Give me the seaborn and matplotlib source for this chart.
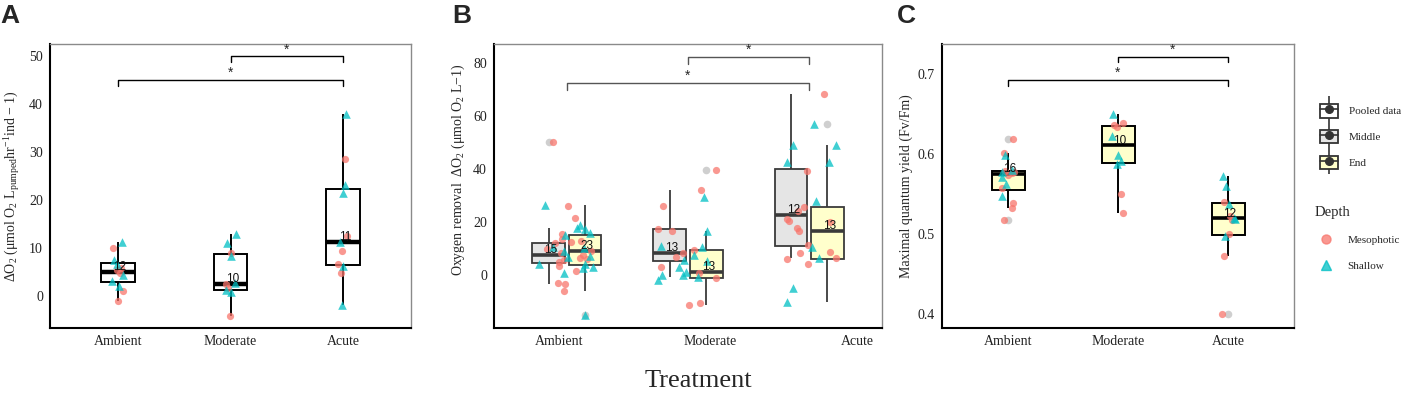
import numpy as np
import pandas as pd
import seaborn as sns
import matplotlib.pyplot as plt
from matplotlib.lines import Line2D
from matplotlib.patches import Patch

treatments = ["Ambient", "Moderate", "Acute"]
depths = ["Mesophotic", "Shallow"]
phases = ["Middle", "End"]

# panel A - O2 consumption per individual
a_shallow = {"Ambient": [11.2, 7.5, 6.8, 4.4, 3.2, 2.2],
             "Moderate": [13.0, 11.0, 8.3, 2.7, 1.3, 0.8],
             "Acute": [38.0, 23.1, 21.5, 11.3, 6.3, -1.8]}
a_meso = {"Ambient": [10.0, 5.8, 5.4, 4.9, 1.0, -1.0],
          "Moderate": [9.0, 2.5, 1.7, -4.0],
          "Acute": [28.5, 12.5, 9.4, 6.7, 4.9]}

# panel B - oxygen removal, middle and end of the experiment
b_mid_shallow = {"Ambient": [0.6, 2.5, 4.0, 6.9, 9.1, 10.1, 15.7, 17.6],
                 "Moderate": [-0.6, 0.0, 3.0, 5.3, 5.7, 7.5, 10.4, 16.7, 29.3],
                 "Acute": [10.7, 27.9, 42.5, 48.8]}
b_mid_meso = {"Ambient": [-3.4, 4.8, 6.0, 7.5, 12.0, 12.4, 50.0],
              "Moderate": [8.2, 17.2, 25.8, 32.1],
              "Acute": [6.5, 8.8, 11.2, 20.1, 21.0, 24.2, 39.2, 68.2]}
b_end_shallow = {"Ambient": [-15.1, 3.1, 4.1, 7.2, 10.5, 14.9, 17.2, 18.9, 26.4],
                 "Moderate": [-2.0, 0.0, 1.0, 11.0],
                 "Acute": [-10.1, -4.8, 6.3, 42.5, 48.8, 56.9]}
b_end_meso = {"Ambient": [-5.9, -3.2, 1.6, 3.5, 5.5, 6.5, 8.3, 9.0, 9.7, 12.8, 13.5, 15.3, 21.4, 26.0],
              "Moderate": [-11.3, -10.5, -1.3, 0.6, 3.1, 6.7, 9.4, 16.4, 39.5],
              "Acute": [4.0, 5.9, 8.2, 16.6, 17.6, 20.5, 25.4]}

# panel C - Fv/Fm
c_shallow = {"Ambient": [0.599, 0.580, 0.578, 0.571, 0.563, 0.547],
             "Moderate": [0.650, 0.6225, 0.599, 0.591, 0.588],
             "Acute": [0.5725, 0.560, 0.538, 0.520, 0.519, 0.497]}
c_meso = {"Ambient": [0.518, 0.533, 0.539, 0.558, 0.574, 0.576, 0.577, 0.579, 0.601, 0.619],
          "Moderate": [0.639, 0.636, 0.634, 0.550, 0.526],
          "Acute": [0.540, 0.523, 0.518, 0.500, 0.472, 0.400]}


def to_long(shallow, meso, phase="End"):
    rows = []
    for depth, d in (("Shallow", shallow), ("Mesophotic", meso)):
        for t, vals in d.items():
            for v in vals:
                rows.append((t, depth, phase, v))
    return pd.DataFrame(rows, columns=["Treatment", "Depth", "Phase", "value"])


dfA = to_long(a_shallow, a_meso)
dfB = pd.concat([to_long(b_mid_shallow, b_mid_meso, "Middle"),
                 to_long(b_end_shallow, b_end_meso, "End")], ignore_index=True)
dfC = to_long(c_shallow, c_meso)

sns.set_style("white")
plt.rcParams["font.family"] = ["Liberation Serif", "DejaVu Serif"]
plt.rcParams["mathtext.fontset"] = "stix"
plt.rcParams["mathtext.default"] = "regular"

pink = "#F8766D"
cyan = "#00BFC4"
dep_style = {"Mesophotic": (pink, "o", 5.2), "Shallow": (cyan, "^", 6.2)}
fill = {"Pooled data": "white", "Middle": "#E5E5E5", "End": "#FFFFCC"}
sans = ["Liberation Sans", "DejaVu Sans"]

np.random.seed(7)
W, H = 1420, 394
fig = plt.figure(figsize=(14.2, 3.94), dpi=100)


def mkax(x0, x1, y0=44, y1=328):
    return fig.add_axes([x0 / W, 1 - y1 / H, (x1 - x0) / W, (y1 - y0) / H])


axA = mkax(50, 411)
axB = mkax(494, 882)
axC = mkax(942, 1294)

flier = dict(marker="o", markerfacecolor="#CFCFCF", markeredgecolor="none", markersize=5.5)

# A
sns.boxplot(data=dfA, x="Treatment", y="value", order=treatments, width=0.3,
            color="white", saturation=1, linecolor="black", linewidth=1.4,
            showfliers=False, showcaps=False, medianprops=dict(linewidth=3.2), ax=axA)
# B
sns.boxplot(data=dfB, x="Treatment", y="value", order=treatments, hue="Phase",
            hue_order=phases, palette=fill, saturation=1, width=0.6, gap=0.1,
            linecolor="#3a3a3a", linewidth=1.3, showcaps=False, flierprops=flier,
            medianprops=dict(linewidth=2.6), legend=False, ax=axB)
# C
sns.boxplot(data=dfC, x="Treatment", y="value", order=treatments, width=0.3,
            color=fill["End"], saturation=1, linecolor="black", linewidth=1.4,
            showcaps=False, flierprops=flier, medianprops=dict(linewidth=2.6), ax=axC)

for ax, df, jit in ((axA, dfA, 0.05), (axB, dfB, 0.25), (axC, dfC, 0.06)):
    for dep in depths:
        col, mk, sz = dep_style[dep]
        sns.stripplot(data=df[df.Depth == dep], x="Treatment", y="value", order=treatments,
                      color=col, marker=mk, size=sz, jitter=jit, alpha=0.75,
                      linewidth=0, ax=ax)

# n labels at medians
for ax, df, offs in ((axA, dfA, {"End": 0.0}), (axB, dfB, {"Middle": -0.15, "End": 0.15}),
                     (axC, dfC, {"End": 0.0})):
    for i, t in enumerate(treatments):
        for ph, o in offs.items():
            v = df[(df.Treatment == t) & (df.Phase == ph)]["value"]
            ax.annotate(str(len(v)), (i + o, v.median()), xytext=(1.5, 3.5),
                        textcoords="offset points", ha="center", va="center",
                        fontsize=8.5, family=sans, color="#111")

# significance brackets
brk = {axA: (49.9, 1.1, 45.0, 1.25, "black"),
       axB: (82.1, 2.5, 72.3, 2.5, "#555555"),
       axC: (0.7216, 0.007, 0.6925, 0.0075, "black")}
for ax, (y1, d1, y2, d2, col) in brk.items():
    ax.plot([1, 1, 2, 2], [y1 - d1, y1, y1, y1 - d1], color=col, lw=1)
    ax.plot([0, 0, 2, 2], [y2 - d2, y2, y2, y2 - d2], color=col, lw=1)
    ax.text(1.5, y1, "*", ha="center", va="bottom", fontsize=10, family=sans)
    ax.text(1.0, y2, "*", ha="center", va="bottom", fontsize=10, family=sans)

axA.set_ylim(-6.6, 52.5)
axA.set_yticks([0, 10, 20, 30, 40, 50])
axB.set_ylim(-20, 87)
axB.set_yticks([0, 20, 40, 60, 80])
axC.set_ylim(0.3825, 0.7375)
axC.set_yticks([0.4, 0.5, 0.6, 0.7])

axA.set_ylabel("ΔO$_2$ (μmol O$_2$ L$_{pumped}$hr$^{-1}$ind − 1)", fontsize=10)
axB.set_ylabel("Oxygen removal  ΔO$_2$ (μmol O$_2$ L−1)", fontsize=10)
axC.set_ylabel("Maximal quantum yield (Fv/Fm)", fontsize=10)
# ylabel anchor is the right edge of the rotated text
axA.yaxis.set_label_coords((22 - 50) / 361, 0.5)
axB.yaxis.set_label_coords((467 - 494) / 388, 0.556)
axC.yaxis.set_label_coords((913 - 942) / 352, 0.5)

for ax in (axA, axB, axC):
    ax.set_xlim(-0.6, 2.6)
    ax.set_xlabel("")
    ax.tick_params(length=0, labelsize=10, labelcolor="#222", pad=5)
    for s in ("top", "right"):
        ax.spines[s].set_color("#8a8a8a")
        ax.spines[s].set_linewidth(1.0)
    for s in ("left", "bottom"):
        ax.spines[s].set_color("black")
        ax.spines[s].set_linewidth(1.5)

axB.set_xticks([-0.06, 1.18, 2.40], treatments)

fig.text(698 / W, 1 - 381 / H, "Treatment", ha="center", va="center", fontsize=19)
for x, lab in ((0, "A"), (452, "B"), (897, "C")):
    fig.text(x / W, 1 - 4 / H, lab, ha="left", va="top", fontsize=19,
             weight="bold", family=sans)

# legends
whisk = Line2D([], [], color="#333", marker="|", markersize=19, markeredgewidth=1.2,
               linestyle="none")
dot = Line2D([], [], color="#333", marker="o", markersize=5.5, linestyle="-", linewidth=1.2)
box_handles = [(whisk, Patch(facecolor=fill[k], edgecolor="#333", linewidth=1.3), dot)
               for k in fill]
fig.legend(box_handles, list(fill), loc="upper left", bbox_to_anchor=(1320 / W, 1 - 104 / H),
           frameon=False, prop={"size": 8}, handlelength=1.6, handleheight=1.5,
           labelspacing=1.1, handletextpad=1.0, borderaxespad=0, borderpad=0)
pt_handles = [Line2D([], [], color=dep_style[d][0], marker=dep_style[d][1], markersize=6.5,
                     linestyle="none", alpha=0.75) for d in depths]
fig.legend(pt_handles, depths, title="Depth", loc="upper left",
           bbox_to_anchor=(1315 / W, 1 - 206 / H), frameon=False, prop={"size": 8},
           title_fontsize=10.5, alignment="left", handlelength=2.0, labelspacing=1.45,
           handletextpad=0.9, borderaxespad=0, borderpad=0)

fig.savefig("out.png", dpi=100)
